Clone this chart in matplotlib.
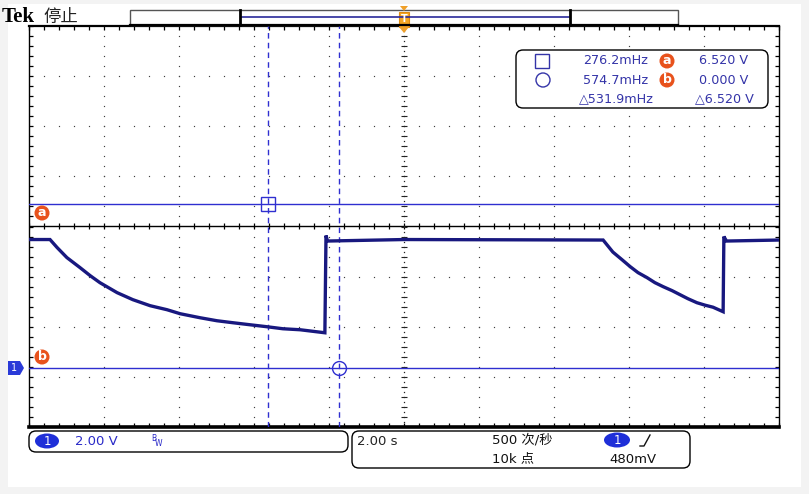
import numpy as np
import matplotlib.pyplot as plt
from matplotlib.patches import Rectangle, FancyBboxPatch, Polygon, Circle, Ellipse

plt.rcParams['font.family'] = ['DejaVu Sans', 'Noto Sans CJK SC']

W, H = 809, 494

# waveform (time in s, volts)
t_wave = [-10.0, -9.44, -9.25, -8.99, -8.64, -8.37, -8.11, -7.65, -7.23, -6.77, -6.32,
          -5.97, -5.44, -4.99, -4.56, -4.11, -3.65, -3.23, -2.77, -2.11, -2.08, -2.04,
          0.0, 5.31, 5.44, 5.57, 5.81, 6.03, 6.24, 6.48, 6.69, 6.91, 7.15, 7.36, 7.57,
          7.81, 8.03, 8.24, 8.51, 8.53, 8.60, 10.0]
v_wave = [5.12, 5.12, 4.80, 4.40, 4.00, 3.68, 3.40, 3.00, 2.72, 2.48, 2.32,
          2.16, 2.00, 1.88, 1.80, 1.72, 1.64, 1.56, 1.52, 1.40, 5.28, 5.06,
          5.12, 5.10, 4.86, 4.62, 4.32, 4.04, 3.80, 3.60, 3.40, 3.24, 3.08, 2.92, 2.76,
          2.60, 2.50, 2.42, 2.24, 5.24, 5.06, 5.10]

# cursors
cursor_t = [-3.62, -1.74]
cursor_v = [6.52, 0.0]
freq_labels = ['276.2mHz', '574.7mHz', '\u25b3531.9mHz']
volt_labels = ['6.520 V', '0.000 V', '\u25b36.520 V']

# scope settings
volts_div = 2.0
secs_div = 2.0
ground_div = -2.82   # ground level in divisions from screen centre

wave_col = '#18187f'
cur_col = '#2f2fd0'
txt_col = '#3434a8'
org_col = '#e8521c'
dot_col = '#404040'

fig = plt.figure(figsize=(W / 100, H / 100), dpi=100, facecolor='#f3f3f3')

# screen area
ax = fig.add_axes([29 / W, 1 - 427 / H, 750 / W, 401 / H])
ax.set_facecolor('white')
x_lo, x_hi = -5 * secs_div, 5 * secs_div
y_mid = -ground_div * volts_div
y_lo, y_hi = y_mid - 4 * volts_div, y_mid + 4 * volts_div
ax.set_xlim(x_lo, x_hi)
ax.set_ylim(y_lo, y_hi)

# graticule (dotted)
for k in range(-4, 5):
    if k == 0:
        continue
    xv = k * secs_div
    ys = np.arange(y_lo, y_hi, volts_div / 5)
    ax.plot([xv] * len(ys), ys, ls='none', marker='s', ms=0.85, mew=0, color=dot_col, zorder=1)
for k in range(-3, 4):
    if k == 0:
        continue
    yv = y_mid + k * volts_div
    xs = np.arange(x_lo, x_hi, secs_div / 5)
    ax.plot(xs, [yv] * len(xs), ls='none', marker='s', ms=0.85, mew=0, color=dot_col, zorder=1)

# centre lines
ax.axhline(y_mid, color='black', lw=1, zorder=2)
xs = np.arange(x_lo, x_hi + 0.01, secs_div / 5)
ax.plot(xs, [y_mid] * len(xs), ls='none', marker='|', ms=5, mew=0.9, color='black', zorder=2)
ys = np.arange(y_lo, y_hi, volts_div / 10)
ax.plot([0] * len(ys), ys, ls='none', marker='s', ms=0.9, mew=0, color='#222222', zorder=2)
ys = np.arange(y_lo, y_hi + 0.01, volts_div / 5)
ax.plot([0] * len(ys), ys, ls='none', marker='_', ms=4, mew=0.8, color='#222222', zorder=2)

# border ticks
ax.set_xticks(np.arange(x_lo, x_hi + 0.01, secs_div / 5))
ax.set_yticks(np.arange(y_lo, y_hi + 0.01, volts_div / 5))
ax.tick_params(direction='in', length=3, width=0.9, color='black',
               top=True, right=True, labelbottom=False, labelleft=False)
for s in ax.spines.values():
    s.set_color('black')
    s.set_linewidth(1)
ax.spines['bottom'].set_linewidth(2.6)
ax.spines['top'].set_linewidth(1.6)

# cursors
for cv in cursor_v:
    ax.axhline(cv, color=cur_col, lw=1, zorder=3)
for ct in cursor_t:
    ax.axvline(ct, color=cur_col, lw=1, ls=(0, (4, 3)), zorder=3)
ax.plot(cursor_t[0], cursor_v[0], marker='s', ms=10, mfc='none', mec=cur_col, mew=1, zorder=4)
ax.plot(cursor_t[1], cursor_v[1], marker='o', ms=10, mfc='none', mec=cur_col, mew=1, zorder=4)

# waveform
ax.plot(t_wave, v_wave, color=wave_col, lw=2.4, solid_joinstyle='miter', zorder=5)

# overlay in pixel coordinates for the scope furniture
ov = fig.add_axes([0, 0, 1, 1], zorder=-1)
ov.set_xlim(0, W)
ov.set_ylim(H, 0)
ov.axis('off')
ov.add_patch(Rectangle((8, 4), 793, 483, facecolor='white', edgecolor='none'))

top = fig.add_axes([0, 0, 1, 1], zorder=10)
top.set_xlim(0, W)
top.set_ylim(H, 0)
top.axis('off')
top.patch.set_alpha(0)

# header
top.text(2, 17, 'Tek', family='Liberation Serif', weight='bold', fontsize=15,
         va='center', ha='left', color='black')
top.text(43, 17, '停止', family='Noto Sans CJK SC', fontsize=12.5,
         va='center', ha='left', color='#222222')

# record bar
top.add_patch(Rectangle((130, 10), 548, 15, facecolor='white', edgecolor='#555555', lw=1))
top.plot([130, 678], [25.5, 25.5], color='black', lw=1.6)
top.plot([241, 569], [17, 17], color='#2a2a9a', lw=1.2)
top.plot([240, 240], [10, 25], color='black', lw=2)
top.plot([570, 570], [10, 25], color='black', lw=2)

# trigger marker
top.add_patch(Polygon([[400, 6], [408, 6], [404, 11]], closed=True, facecolor='#f0a02a', edgecolor='none'))
top.add_patch(Rectangle((399, 12), 10, 15, facecolor='#f5a623', edgecolor='#e08a10', lw=0.8))
top.add_patch(Polygon([[399, 27], [409, 27], [404, 33]], closed=True, facecolor='#f0a02a', edgecolor='none'))
top.text(404, 19.5, 'T', fontsize=7, color='white', weight='bold', ha='center', va='center')

# cursor labels a/b on the left
for cy, lab in [(213, 'a'), (357, 'b')]:
    top.add_patch(Circle((42, cy), 7.5, facecolor=org_col, edgecolor='none'))
    top.text(42, cy - 0.5, lab, fontsize=9, weight='bold', color='white', ha='center', va='center')

# ground marker for channel 1
top.add_patch(Polygon([[8, 361], [20, 361], [24, 368], [20, 375], [8, 375]], closed=True,
                      facecolor='#2a3ad8', edgecolor='none'))
top.text(14, 368, '1', fontsize=7, color='white', ha='center', va='center')

# measurement readout box
top.add_patch(FancyBboxPatch((516, 50), 252, 58, boxstyle='round,pad=0,rounding_size=7',
                             facecolor='white', edgecolor='black', lw=1))
rows_y = [61, 80, 99]
top.add_patch(Rectangle((535, 54), 14, 14, facecolor='none', edgecolor=txt_col, lw=1))
top.add_patch(Circle((543, 80), 7, facecolor='none', edgecolor=txt_col, lw=1))
for i, ry in enumerate(rows_y[:2]):
    top.text(648, ry, freq_labels[i], fontsize=9.2, color=txt_col, ha='right', va='center')
    top.add_patch(Circle((667, ry), 7.5, facecolor=org_col, edgecolor='none'))
    top.text(667, ry - 0.5, 'ab'[i], fontsize=9, weight='bold', color='white', ha='center', va='center')
    top.text(748, ry, volt_labels[i], fontsize=9.2, color=txt_col, ha='right', va='center')
top.text(654, rows_y[2], freq_labels[2], fontsize=9.2, color=txt_col, ha='right', va='center')
top.text(754, rows_y[2], volt_labels[2], fontsize=9.2, color=txt_col, ha='right', va='center')

# bottom status boxes
top.add_patch(FancyBboxPatch((29, 431), 319, 21, boxstyle='round,pad=0,rounding_size=7',
                             facecolor='white', edgecolor='black', lw=1))
top.add_patch(Ellipse((47, 441), 24, 15, facecolor='#1f2fd8', edgecolor='none'))
top.text(47, 441, '1', fontsize=8.5, color='white', ha='center', va='center')
top.text(75, 441, '%.2f V' % volts_div, fontsize=9.5, color='#2a2ac8', ha='left', va='center')
top.text(151, 438, 'B', fontsize=5.5, color='#2a2ac8', ha='left', va='center')
top.text(155, 443, 'W', fontsize=5.5, color='#2a2ac8', ha='left', va='center')

top.add_patch(FancyBboxPatch((352, 431), 338, 37, boxstyle='round,pad=0,rounding_size=7',
                             facecolor='white', edgecolor='black', lw=1))
top.text(357, 441, '%.2f s' % secs_div, fontsize=9.5, color='#222222', ha='left', va='center')
top.text(492, 440, '500 次/秒', fontsize=9.5, color='#111111', ha='left', va='center')
top.text(492, 459, '10k 点', fontsize=9.5, color='#111111', ha='left', va='center')
top.add_patch(Ellipse((617, 440), 26, 15, facecolor='#1f2fd8', edgecolor='none'))
top.text(617, 440, '1', fontsize=8.5, color='white', ha='center', va='center')
top.plot([640, 644, 650], [446, 446, 435], color='#111111', lw=1)
top.text(609, 459, '480mV', fontsize=9.5, color='#111111', ha='left', va='center')

fig.savefig('out.png', dpi=100, facecolor=fig.get_facecolor())
